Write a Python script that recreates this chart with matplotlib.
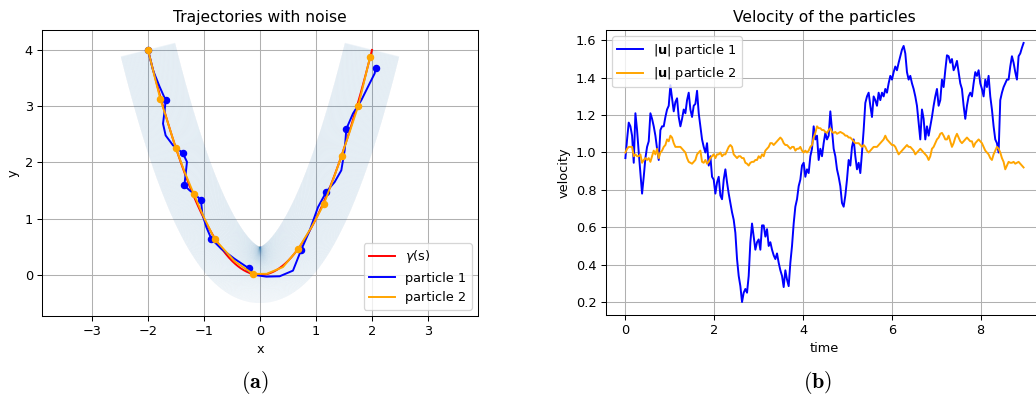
import numpy as np
import matplotlib
matplotlib.use('Agg')
import matplotlib.pyplot as plt
from matplotlib.collections import LineCollection

# speed of the two particles, uniformly sampled in time
t_end = 8.97
speed_1 = [0.97, 1.07, 1.16, 1.14, 1.09, 0.945, 1.21, 1.12, 1.00, 0.89,
           0.78, 0.87, 0.97, 1.03, 1.06, 1.21, 1.18, 1.14, 1.09, 1.02,
           0.96, 1.12, 1.14, 1.14, 1.19, 1.23, 1.25, 1.36, 1.29, 1.22,
           1.27, 1.29, 1.19, 1.14, 1.18, 1.23, 1.21, 1.28, 1.32, 1.23,
           1.19, 1.25, 1.26, 1.33, 1.21, 1.14, 1.07, 1.03, 1.00, 1.05,
           0.93, 0.98, 0.87, 0.855, 0.78, 0.84, 0.87, 0.77, 0.75, 0.855,
           0.91, 0.84, 0.78, 0.73, 0.68, 0.64, 0.57, 0.43, 0.34, 0.285,
           0.20, 0.25, 0.27, 0.25, 0.34, 0.52, 0.62, 0.55, 0.48, 0.52,
           0.535, 0.48, 0.61, 0.61, 0.55, 0.59, 0.50, 0.52, 0.48, 0.45,
           0.43, 0.46, 0.41, 0.37, 0.34, 0.28, 0.37, 0.32, 0.285, 0.41,
           0.50, 0.62, 0.71, 0.75, 0.82, 0.855, 0.93, 0.945, 0.87, 0.91,
           0.89, 0.98, 1.02, 1.14, 1.07, 1.09, 0.96, 1.02, 0.98, 1.05,
           1.105, 1.07, 1.09, 1.22, 1.12, 1.02, 0.98, 0.91, 0.87, 0.82,
           0.73, 0.71, 0.77, 0.855, 0.96, 0.93, 1.03, 1.07, 0.98, 0.91,
           0.945, 0.89, 1.00, 1.12, 1.265, 1.30, 1.32, 1.25, 1.19, 1.30,
           1.28, 1.25, 1.32, 1.28, 1.32, 1.30, 1.34, 1.32, 1.37, 1.41,
           1.39, 1.43, 1.46, 1.44, 1.48, 1.515, 1.55, 1.57, 1.53, 1.43,
           1.39, 1.41, 1.37, 1.34, 1.30, 1.25, 1.16, 1.07, 1.23, 1.18,
           1.07, 1.14, 1.09, 1.14, 1.19, 1.25, 1.30, 1.34, 1.25, 1.28,
           1.39, 1.35, 1.44, 1.52, 1.515, 1.48, 1.50, 1.44, 1.46, 1.49,
           1.43, 1.37, 1.34, 1.25, 1.18, 1.25, 1.30, 1.32, 1.30, 1.37,
           1.43, 1.41, 1.44, 1.37, 1.34, 1.30, 1.39, 1.35, 1.41, 1.30,
           1.23, 1.14, 1.07, 1.05, 1.00, 1.28, 1.32, 1.35, 1.37, 1.39,
           1.39, 1.46, 1.515, 1.48, 1.43, 1.39, 1.515, 1.53, 1.56, 1.586]
speed_2 = [1.00, 1.02, 1.03, 1.03, 1.03, 0.98, 0.99, 0.98, 0.98, 0.99,
           0.945, 0.96, 0.97, 0.96, 0.97, 0.95, 0.98, 1.01, 0.99, 1.02,
           0.97, 1.00, 1.01, 1.03, 1.04, 1.07, 1.06, 1.09, 1.08, 1.05,
           1.03, 1.03, 1.03, 1.03, 1.02, 1.01, 1.00, 0.97, 0.95, 0.945,
           0.94, 0.95, 0.96, 0.99, 1.00, 1.01, 0.95, 0.945, 0.96, 0.94,
           0.95, 0.97, 0.98, 0.99, 0.97, 0.99, 0.99, 1.00, 0.98, 0.99,
           0.99, 1.01, 1.03, 1.04, 1.03, 0.99, 0.98, 0.97, 0.98, 0.98,
           0.97, 0.97, 0.945, 0.94, 0.93, 0.945, 0.95, 0.95, 0.96, 0.96,
           0.98, 0.97, 0.99, 0.98, 1.01, 1.02, 1.03, 1.05, 1.05, 1.04,
           1.05, 1.06, 1.07, 1.08, 1.07, 1.05, 1.04, 1.04, 1.03, 1.02,
           1.03, 1.03, 1.01, 1.02, 1.02, 1.03, 1.01, 1.00, 1.01, 1.00,
           1.01, 1.03, 1.04, 1.08, 1.105, 1.14, 1.13, 1.13, 1.12, 1.12,
           1.11, 1.105, 1.12, 1.13, 1.11, 1.105, 1.11, 1.10, 1.105, 1.11,
           1.105, 1.10, 1.09, 1.09, 1.08, 1.08, 1.07, 1.06, 1.05, 1.05,
           1.05, 1.04, 1.03, 1.04, 1.03, 1.01, 1.00, 1.01, 1.02, 1.03,
           1.03, 1.03, 1.04, 1.05, 1.06, 1.07, 1.09, 1.07, 1.06, 1.05,
           1.04, 1.04, 1.03, 1.01, 0.99, 1.00, 1.01, 1.02, 1.03, 1.04,
           1.03, 1.03, 1.02, 1.01, 0.99, 1.00, 1.01, 1.02, 1.01, 1.00,
           0.99, 0.98, 0.96, 0.98, 1.02, 1.03, 1.05, 1.07, 1.08, 1.10,
           1.105, 1.09, 1.07, 1.07, 1.09, 1.06, 1.03, 1.05, 1.08, 1.10,
           1.08, 1.06, 1.05, 1.06, 1.07, 1.08, 1.07, 1.06, 1.06, 1.03,
           1.05, 1.06, 1.07, 1.06, 1.05, 1.03, 1.01, 1.00, 0.99, 0.97,
           0.96, 0.99, 1.01, 1.03, 1.02, 1.00, 0.97, 0.95, 0.91, 0.93,
           0.95, 0.945, 0.945, 0.95, 0.94, 0.945, 0.95, 0.94, 0.93, 0.92]

# trajectories in the plane
p1_x = [-2.0, -1.911, -1.792, -1.685, -1.702, -1.732, -1.685, -1.554, -1.381, -1.304,
        -1.327, -1.351, -1.256, -1.137, -1.054, -1.03, -0.958, -0.869, -0.69, -0.452,
        -0.202, -0.095, 0.113, 0.351, 0.589, 0.738, 0.887, 1.036, 1.185, 1.333,
        1.452, 1.512, 1.542, 1.661, 1.81, 1.958, 2.048, 2.065]
p1_y = [4.0, 3.64, 3.345, 3.107, 2.93, 2.69, 2.48, 2.305, 2.169, 2.01,
        1.80, 1.592, 1.503, 1.414, 1.325, 1.087, 0.85, 0.642, 0.463, 0.285,
        0.119, 0.0, -0.03, -0.024, 0.077, 0.452, 0.79, 1.206, 1.479, 1.652,
        1.86, 2.216, 2.597, 2.87, 3.108, 3.405, 3.583, 3.684]
p1_mark_x = [-2.0, -1.685, -1.381, -1.351, -1.054, -0.869, -0.202, 0.738, 1.185, 1.542, 2.065]
p1_mark_y = [4.0, 3.107, 2.169, 1.592, 1.325, 0.642, 0.119, 0.452, 1.479, 2.597, 3.684]

p2_x = [-2.0, -1.89, -1.78, -1.64, -1.506, -1.35, -1.185, -1.0, -0.81, -0.45, -0.125,
        0.12, 0.41, 0.679, 0.92, 1.143, 1.30, 1.458, 1.61, 1.756, 1.86, 1.964]
p2_y = [4.0, 3.56, 3.13, 2.69, 2.264, 1.84, 1.444, 1.02, 0.636, 0.24, 0.018,
        0.02, 0.14, 0.457, 0.85, 1.266, 1.68, 2.121, 2.57, 3.012, 3.44, 3.868]
p2_mark_x = [-2.0, -1.78, -1.506, -1.185, -0.81, -0.125, 0.679, 1.143, 1.458, 1.756, 1.964]
p2_mark_y = [4.0, 3.13, 2.264, 1.444, 0.636, 0.018, 0.457, 1.266, 2.121, 3.012, 3.868]

# reference curve gamma(s) = (s, s^2) and half width of the noise tube
s = np.linspace(-2, 2, 801)
gamma_x = s
gamma_y = s ** 2
tube = 0.5

W, H, DPI = 1036, 399, 93
fig = plt.figure(figsize=(W / DPI, H / DPI), dpi=DPI)

ax1 = fig.add_axes([42 / W, 1 - 316 / H, 436 / W, 286 / H])
ax2 = fig.add_axes([605.5 / W, 1 - 315 / H, 438 / W, 285 / H])

# tube: normals along the curve, equally spaced in arc length
seg_len = np.hypot(np.diff(gamma_x), np.diff(gamma_y))
arc = np.concatenate([[0], np.cumsum(seg_len)])
arc_n = np.linspace(0, arc[-1], 1600)
sx = np.interp(arc_n, arc, gamma_x)
sy = np.interp(arc_n, arc, gamma_y)
nrm = np.hypot(2 * sx, 1)
nx, ny = -2 * sx / nrm, 1 / nrm
segs = np.stack([np.column_stack([sx - tube * nx, sy - tube * ny]),
                 np.column_stack([sx + tube * nx, sy + tube * ny])], axis=1)
ax1.add_collection(LineCollection(segs, colors='tab:blue', alpha=0.03, linewidths=0.9, zorder=1))

ax1.plot(gamma_x, gamma_y, color='red', label=r'$\gamma$(s)', zorder=2)
ax1.plot(p1_x, p1_y, color='blue', label='particle 1', zorder=3)
ax1.plot(p1_mark_x, p1_mark_y, 'o', color='blue', markersize=4.8, zorder=3)
ax1.plot(p2_x, p2_y, color='orange', label='particle 2', zorder=4)
ax1.plot(p2_mark_x, p2_mark_y, 'o', color='orange', markersize=4.8, zorder=4)
ax1.set_xlim(-3.893, 3.893)
ax1.set_ylim(-0.73, 4.355)
ax1.grid(True)
ax1.set_axisbelow(True)
ax1.set_xlabel('x')
ax1.set_ylabel('y')
ax1.set_title('Trajectories with noise')
ax1.legend(loc='lower right')

time = np.linspace(0, t_end, len(speed_1))
ax2.plot(time, speed_1, color='blue', label=r'$|\mathbf{u}|$ particle 1')
ax2.plot(time, speed_2, color='orange', label=r'$|\mathbf{u}|$ particle 2')
ax2.grid(True)
ax2.set_xlabel('time')
ax2.set_ylabel('velocity')
ax2.set_title('Velocity of the particles')
ax2.legend(loc='upper left')

fig.text(255 / W, 1 - 383 / H, r'$\mathbf{(a)}$', math_fontfamily='cm', fontsize=17,
         ha='center', va='center')
fig.text(818 / W, 1 - 383 / H, r'$\mathbf{(b)}$', math_fontfamily='cm', fontsize=17,
         ha='center', va='center')

fig.savefig('out.png', dpi=DPI)
